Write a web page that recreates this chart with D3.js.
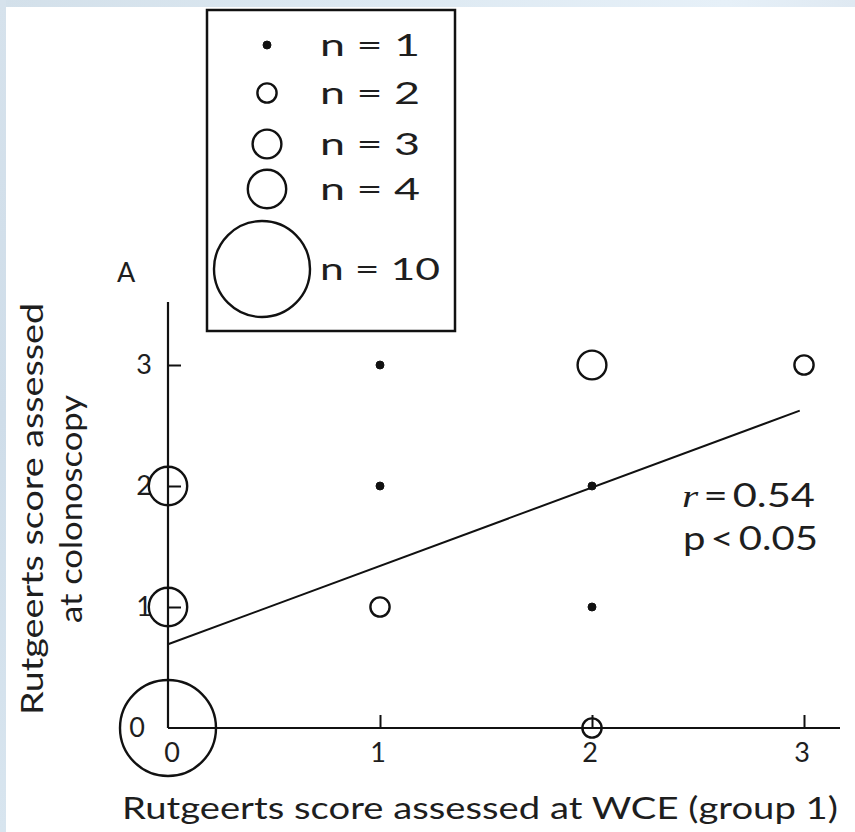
<!DOCTYPE html>
<html>
<head>
<meta charset="utf-8">
<script src="https://cdn.jsdelivr.net/npm/d3@7"></script>
<style>
  html, body { margin: 0; padding: 0; background: #ffffff; }
  svg { display: block; }
  text { font-family: "Lato", "Open Sans", sans-serif; fill: #1e1e1e; }
</style>
</head>
<body>
<svg id="chart" width="855" height="832"></svg>
<script>
// Rutgeerts score: WCE (x) vs colonoscopy (y), bubble size = number of patients
const wceScore   = [0, 0, 0, 1, 1, 1, 2, 2, 2, 2, 3];
const colonScore = [0, 1, 2, 3, 2, 1, 3, 2, 1, 0, 3];
const patients   = [10, 4, 4, 1, 1, 2, 3, 1, 1, 2, 2];

const legendCounts = [1, 2, 3, 4, 10];
const tickValues   = [0, 1, 2, 3];
const statLines    = ["r\u2009=\u20090.54", "p\u2009<\u20090.05"];

const svg = d3.select("#chart");
const W = 855, H = 832;

// page frame: pale blue strip along the top and left edges
const defs = svg.append("defs");
const gTop = defs.append("linearGradient").attr("id", "topStrip").attr("x1", 0).attr("x2", 1);
gTop.append("stop").attr("offset", "0%").attr("stop-color", "#d3e0ea");
gTop.append("stop").attr("offset", "40%").attr("stop-color", "#dce8f1");
gTop.append("stop").attr("offset", "85%").attr("stop-color", "#e6f0f8");
gTop.append("stop").attr("offset", "100%").attr("stop-color", "#dfe9f2");
const gLeft = defs.append("linearGradient").attr("id", "leftStrip").attr("x1", 0).attr("x2", 0).attr("y1", 0).attr("y2", 1);
gLeft.append("stop").attr("offset", "0%").attr("stop-color", "#d6e2ec");
gLeft.append("stop").attr("offset", "50%").attr("stop-color", "#cfdde9");
gLeft.append("stop").attr("offset", "100%").attr("stop-color", "#d8e5ef");

svg.append("rect").attr("x", 0).attr("y", 0).attr("width", W).attr("height", 7).attr("fill", "url(#topStrip)");
svg.append("rect").attr("x", 0).attr("y", 0).attr("width", 6).attr("height", H).attr("fill", "url(#leftStrip)");

// scales
const x = d3.scaleLinear().domain([0, 3]).range([168, 804]);
const y = d3.scaleLinear().domain([0, 3]).range([728, 365]);
const r = d3.scaleLinear().domain([0, 10]).range([0, 48]);

const ink = "#111";

// axes (ticks drawn inward, no tick at the origin)
const xAxis = d3.axisTop(x).tickValues([1, 2, 3]).tickSize(13).tickFormat("");
const yAxis = d3.axisRight(y).tickValues([1, 2, 3]).tickSize(13).tickFormat("");

const gx = svg.append("g").attr("transform", `translate(0,${y(0)})`).call(xAxis);
gx.select(".domain").remove();
gx.selectAll(".tick line").attr("stroke", ink).attr("stroke-width", 2);
svg.append("line").attr("x1", x(0)).attr("x2", 840).attr("y1", y(0)).attr("y2", y(0))
  .attr("stroke", ink).attr("stroke-width", 2.2);

const gy = svg.append("g").attr("transform", `translate(${x(0)},0)`).call(yAxis);
gy.select(".domain").remove();
gy.selectAll(".tick line").attr("stroke", ink).attr("stroke-width", 2);
svg.append("line").attr("x1", x(0)).attr("x2", x(0)).attr("y1", y(0)).attr("y2", 302)
  .attr("stroke", ink).attr("stroke-width", 2.2);

// tick labels
svg.append("g").selectAll("text").data(tickValues).join("text")
  .attr("x", d => x(d) + (d === 0 ? 4 : -2))
  .attr("y", y(0) + 34)
  .attr("text-anchor", "middle")
  .attr("font-size", 27)
  .attr("fill", "#333")
  .text(d => d);

svg.append("g").selectAll("text").data(tickValues).join("text")
  .attr("x", d => d === 0 ? 145 : 152)
  .attr("y", d => y(d) + 9)
  .attr("text-anchor", "end")
  .attr("font-size", 27)
  .attr("fill", "#333")
  .text(d => d);

// least-squares line weighted by patient counts
const pts = wceScore.map((v, i) => ({ x: v, y: colonScore[i], n: patients[i] }));
const N = d3.sum(pts, d => d.n);
const mx = d3.sum(pts, d => d.n * d.x) / N;
const my = d3.sum(pts, d => d.n * d.y) / N;
const sxy = d3.sum(pts, d => d.n * (d.x - mx) * (d.y - my));
const sxx = d3.sum(pts, d => d.n * (d.x - mx) ** 2);
const slope = sxy / sxx, icpt = my - slope * mx;

svg.append("line")
  .attr("x1", x(0)).attr("y1", y(icpt))
  .attr("x2", x(2.98)).attr("y2", y(icpt + slope * 2.98))
  .attr("stroke", ink).attr("stroke-width", 2);

// bubbles
svg.append("g").selectAll("circle").data(pts).join("circle")
  .attr("cx", d => x(d.x))
  .attr("cy", d => y(d.y))
  .attr("r", d => d.n === 1 ? 4 : r(d.n))
  .attr("fill", d => d.n === 1 ? ink : "none")
  .attr("stroke", ink)
  .attr("stroke-width", d => d.n === 1 ? 1 : 2.4);

// statistics
svg.append("text").attr("x", 682).attr("y", 507).attr("font-size", 32).attr("fill", "#333")
  .attr("textLength", 133).attr("lengthAdjust", "spacingAndGlyphs")
  .call(t => {
    t.append("tspan").attr("font-style", "italic").attr("font-family", "Liberation Serif, serif").text("r");
    t.append("tspan").text(statLines[0].slice(1));
  });
svg.append("text").attr("x", 683).attr("y", 550).attr("font-size", 32).attr("fill", "#333")
  .attr("textLength", 135).attr("lengthAdjust", "spacingAndGlyphs")
  .text(statLines[1]);

// panel letter
svg.append("text").attr("x", 117).attr("y", 282).attr("font-size", 27).attr("fill", "#333").text("A");

// axis titles
svg.append("text")
  .attr("x", 122).attr("y", 819)
  .attr("font-size", 31)
  .attr("textLength", 716).attr("lengthAdjust", "spacingAndGlyphs")
  .text("Rutgeerts score assessed at WCE (group 1)");

svg.append("text")
  .attr("transform", "translate(43,509) rotate(-90)")
  .attr("text-anchor", "middle")
  .attr("font-size", 31)
  .attr("textLength", 412).attr("lengthAdjust", "spacingAndGlyphs")
  .text("Rutgeerts score assessed");

svg.append("text")
  .attr("transform", "translate(82,509) rotate(-90)")
  .attr("text-anchor", "middle")
  .attr("font-size", 31)
  .attr("textLength", 228).attr("lengthAdjust", "spacingAndGlyphs")
  .text("at colonoscopy");

// legend
const legend = svg.append("g");
legend.append("rect").attr("x", 207).attr("y", 10).attr("width", 248).attr("height", 321)
  .attr("fill", "#fff").attr("stroke", ink).attr("stroke-width", 2.5);

const legendY = [45, 93, 144, 189, 269];
const legendRows = legend.selectAll("g.row").data(legendCounts).join("g").attr("class", "row");
legendRows.append("circle")
  .attr("cx", d => d === 10 ? 262 : 267)
  .attr("cy", (d, i) => legendY[i])
  .attr("r", d => d === 1 ? 4 : r(d))
  .attr("fill", d => d === 1 ? ink : "none")
  .attr("stroke", ink)
  .attr("stroke-width", d => d === 1 ? 1 : 2.4);
legendRows.append("text")
  .attr("x", 320)
  .attr("y", (d, i) => legendY[i] + 11)
  .attr("font-size", 31)
  .attr("fill", "#222")
  .attr("textLength", d => d === 10 ? 120 : 100)
  .attr("lengthAdjust", "spacingAndGlyphs")
  .text(d => `n = ${d}`);
</script>
</body>
</html>
